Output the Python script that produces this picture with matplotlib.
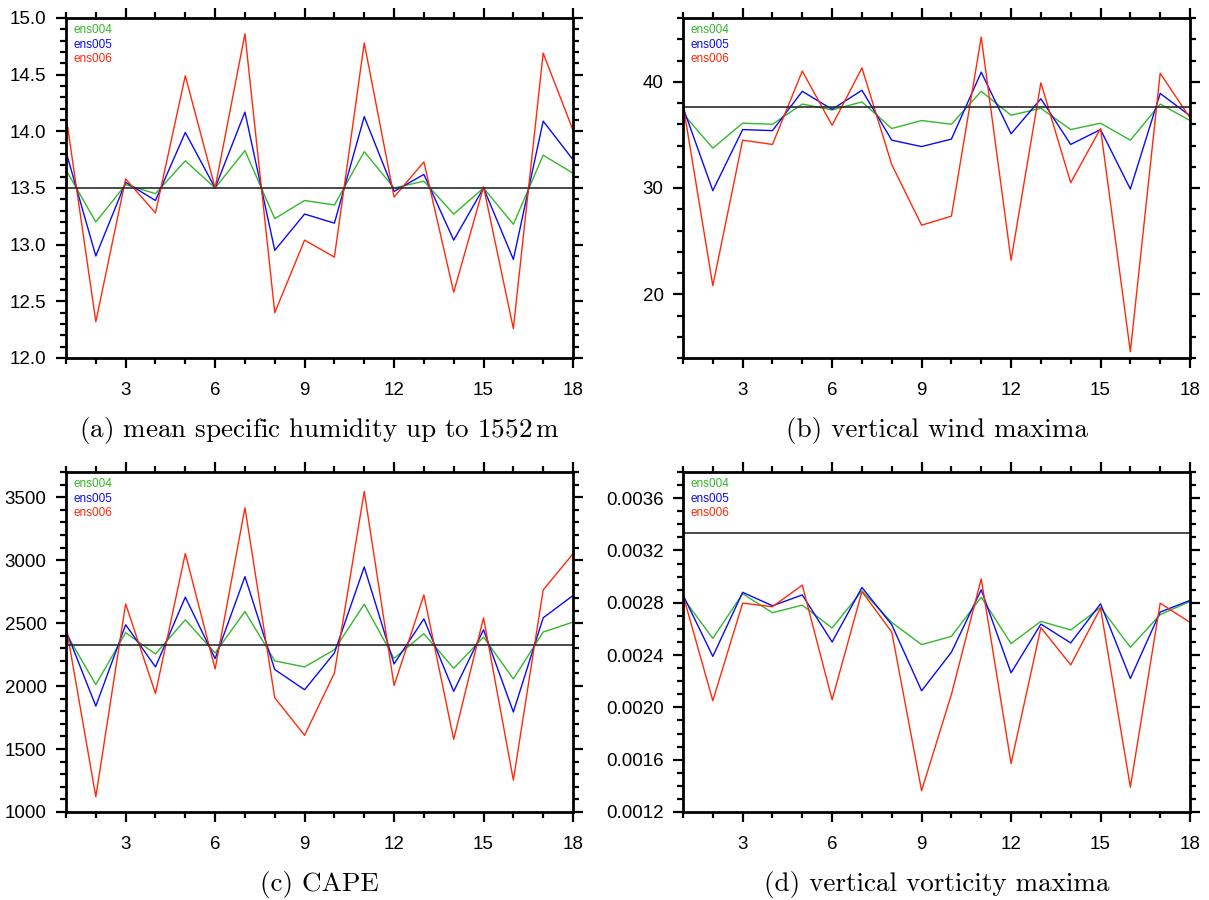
import numpy as np
import matplotlib
matplotlib.use("Agg")
import matplotlib.pyplot as plt
from matplotlib.ticker import MultipleLocator, FormatStrFormatter

plt.rcParams['font.family'] = ['Liberation Sans', 'DejaVu Sans']
plt.rcParams['mathtext.fontset'] = 'cm'

x = np.arange(1, 19)
names = ["ens004", "ens005", "ens006"]
colors = ["#33b82a", "#0a0af5", "#ff2a0a"]

# (a) mean specific humidity
hum_004 = [13.66, 13.20, 13.53, 13.45, 13.74, 13.50, 13.83, 13.23, 13.39,
           13.35, 13.82, 13.50, 13.56, 13.27, 13.50, 13.18, 13.79, 13.63]
hum_005 = [13.82, 12.90, 13.55, 13.39, 13.99, 13.50, 14.17, 12.95, 13.27,
           13.19, 14.13, 13.47, 13.62, 13.04, 13.50, 12.87, 14.09, 13.75]
hum_006 = [14.14, 12.32, 13.58, 13.28, 14.49, 13.50, 14.86, 12.40, 13.04,
           12.89, 14.78, 13.42, 13.73, 12.58, 13.51, 12.26, 14.69, 14.01]
hum_ref = 13.5

# (b) vertical wind maxima
wind_004 = [37.0, 33.75, 36.1, 36.0, 37.9, 37.35, 38.1, 35.6, 36.35,
            36.0, 39.1, 36.85, 37.5, 35.5, 36.1, 34.5, 37.9, 36.35]
wind_005 = [37.6, 29.75, 35.5, 35.4, 39.1, 37.4, 39.2, 34.5, 33.9,
            34.6, 40.9, 35.1, 38.4, 34.1, 35.5, 29.9, 38.9, 36.8]
wind_006 = [37.9, 20.8, 34.5, 34.1, 41.0, 35.9, 41.3, 32.2, 26.5,
            27.35, 44.2, 23.2, 39.9, 30.5, 35.6, 14.6, 40.8, 36.6]
wind_ref = 37.6

# (c) CAPE
cape_004 = [2420, 2012, 2424, 2255, 2526, 2263, 2592, 2200, 2152,
            2289, 2650, 2220, 2416, 2141, 2389, 2057, 2429, 2508]
cape_005 = [2440, 1841, 2487, 2152, 2706, 2218, 2869, 2131, 1971,
            2263, 2946, 2176, 2534, 1958, 2447, 1794, 2542, 2719]
cape_006 = [2480, 1121, 2653, 1941, 3053, 2136, 3416, 1907, 1609,
            2104, 3545, 2004, 2724, 1577, 2542, 1253, 2763, 3051]
cape_ref = 2325

# (d) vertical vorticity maxima
vort_004 = [0.002836, 0.002528, 0.002869, 0.002724, 0.002782, 0.002607,
            0.002891, 0.00265, 0.00248, 0.002543, 0.002843, 0.002488,
            0.002658, 0.002592, 0.002764, 0.00246, 0.002709, 0.00281]
vort_005 = [0.00286, 0.00239, 0.00288, 0.002777, 0.00286, 0.0025,
            0.002917, 0.002632, 0.002127, 0.002422, 0.002899, 0.002264,
            0.002637, 0.002493, 0.002792, 0.002221, 0.002729, 0.002818]
vort_006 = [0.00286, 0.002051, 0.002797, 0.00277, 0.002935, 0.002058,
            0.002886, 0.002576, 0.001363, 0.002099, 0.002983, 0.001571,
            0.00261, 0.002325, 0.002759, 0.00139, 0.002797, 0.00265]
vort_ref = 0.003336

captions = ["(a) mean specific humidity up to 1552$\\,$m",
            "(b) vertical wind maxima",
            "(c) CAPE",
            "(d) vertical vorticity maxima"]

panels = [
    ([hum_004, hum_005, hum_006], hum_ref, (12, 15), 0.5, 0.1, "%.1f"),
    ([wind_004, wind_005, wind_006], wind_ref, (14, 46), 10, 2, "%d"),
    ([cape_004, cape_005, cape_006], cape_ref, (1000, 3700), 500, 100, "%d"),
    ([vort_004, vort_005, vort_006], vort_ref, (0.0012, 0.0038), 0.0004, 0.0001, "%.4f"),
]

W, H = 1209, 900
fig = plt.figure(figsize=(W / 100, H / 100), dpi=100)

# axes boxes in pixels: left, right, top, bottom
boxes = [(66, 573, 18, 358), (683, 1190, 18, 358),
         (66, 573, 472, 812), (683, 1190, 472, 812)]
cap_y = [431, 431, 884, 884]

for i, (series, ref, ylim, major, minor, fmt) in enumerate(panels):
    l, r, t, b = boxes[i]
    ax = fig.add_axes([l / W, 1 - b / H, (r - l) / W, (b - t) / H])
    for s, c in zip(series, colors):
        ax.plot(x, s, color=c, lw=1.0)
    ax.axhline(ref, color="#2a2a2a", lw=1.2)
    ax.set_xlim(1, 18)
    ax.set_ylim(*ylim)
    ax.xaxis.set_major_locator(MultipleLocator(3))
    ax.xaxis.set_minor_locator(MultipleLocator(1))
    ax.yaxis.set_major_locator(MultipleLocator(major))
    ax.yaxis.set_minor_locator(MultipleLocator(minor))
    ax.yaxis.set_major_formatter(FormatStrFormatter(fmt))
    ax.tick_params(which="both", direction="out", top=True, right=True,
                   labelsize=13.5, width=1.6)
    ax.tick_params(which="major", length=7)
    ax.tick_params(which="minor", length=4)
    ax.tick_params(axis="x", pad=10)
    ax.tick_params(axis="y", pad=7)
    for sp in ax.spines.values():
        sp.set_linewidth(2)
    for k, (n, c) in enumerate(zip(names, colors)):
        ax.text(0.014, 0.966 - k * 0.044, n, color=c, fontsize=8.5,
                transform=ax.transAxes, va="center", ha="left")
    fig.text((l + r) / 2 / W, 1 - cap_y[i] / H, captions[i],
             family="cmr10", fontsize=19.5, ha="center", va="center")

fig.savefig("out.png", dpi=100)
